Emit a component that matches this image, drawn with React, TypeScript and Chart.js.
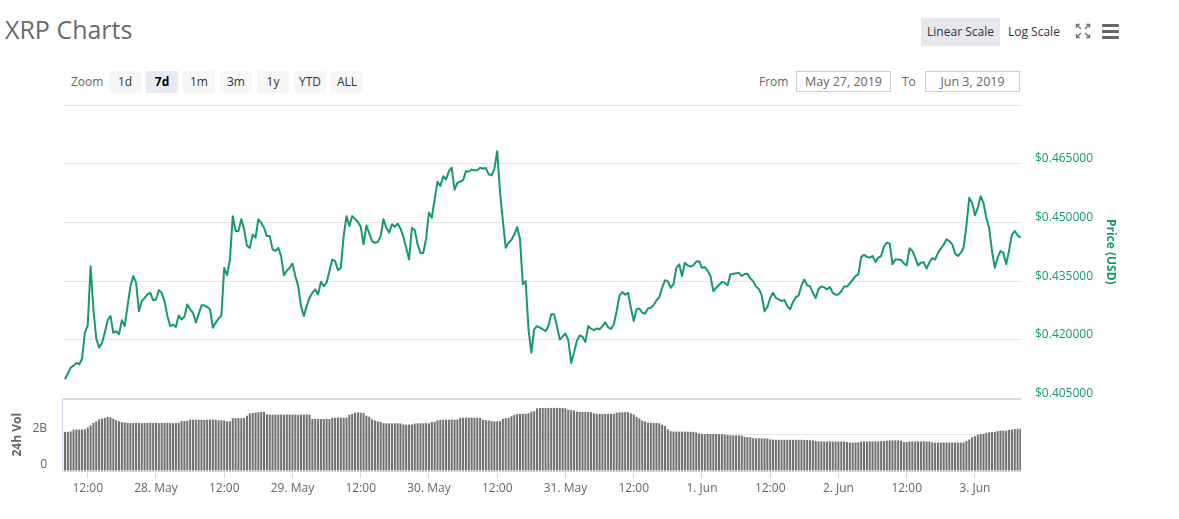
import React, { useEffect, useRef } from 'react';
import { Chart, registerables } from 'chart.js';

Chart.register(...registerables);

// ---- data ----
// One observation every 30 minutes, starting 27 May 2019 08:00
const seriesStartLabel = '27 May 2019 08:00';
const stepHours = 0.5;

const priceUSD = [
  0.4099, 0.4114, 0.4129, 0.4134, 0.4141, 0.4137, 0.4152, 0.4218, 0.4237, 0.4388,
  0.4278, 0.4203, 0.4180, 0.4192, 0.4218, 0.4250, 0.4261, 0.4218, 0.4222, 0.4214,
  0.4250, 0.4235, 0.4286, 0.4336, 0.4363, 0.4346, 0.4273, 0.4299, 0.4307, 0.4316,
  0.4320, 0.4301, 0.4303, 0.4327, 0.4320, 0.4299, 0.4261, 0.4235, 0.4239, 0.4233,
  0.4262, 0.4252, 0.4259, 0.4290, 0.4278, 0.4269, 0.4244, 0.4265, 0.4288, 0.4288,
  0.4284, 0.4278, 0.4231, 0.4244, 0.4254, 0.4262, 0.4384, 0.4365, 0.4405, 0.4516,
  0.4478, 0.4478, 0.4508, 0.4482, 0.4440, 0.4435, 0.4469, 0.4461, 0.4508, 0.4499,
  0.4486, 0.4465, 0.4465, 0.4431, 0.4427, 0.4435, 0.4414, 0.4365, 0.4376, 0.4384,
  0.4395, 0.4363, 0.4337, 0.4286, 0.4261, 0.4286, 0.4307, 0.4320, 0.4329, 0.4316,
  0.4348, 0.4337, 0.4346, 0.4376, 0.4405, 0.4401, 0.4378, 0.4384, 0.4465, 0.4516,
  0.4491, 0.4516, 0.4509, 0.4501, 0.4489, 0.4444, 0.4492, 0.4472, 0.4452, 0.4448,
  0.4450, 0.4465, 0.4508, 0.4486, 0.4474, 0.4495, 0.4489, 0.4497, 0.4484, 0.4463,
  0.4435, 0.4405, 0.4486, 0.4480, 0.4444, 0.4422, 0.4422, 0.4459, 0.4525, 0.4512,
  0.4559, 0.4604, 0.4593, 0.4618, 0.4610, 0.4631, 0.4640, 0.4584, 0.4601, 0.4604,
  0.4608, 0.4631, 0.4630, 0.4635, 0.4633, 0.4633, 0.4640, 0.4637, 0.4639, 0.4623,
  0.4620, 0.4637, 0.4682, 0.4576, 0.4503, 0.4435, 0.4448, 0.4455, 0.4469, 0.4488,
  0.4458, 0.4342, 0.4350, 0.4227, 0.4167, 0.4227, 0.4235, 0.4231, 0.4227, 0.4222,
  0.4235, 0.4265, 0.4265, 0.4235, 0.4201, 0.4208, 0.4216, 0.4199, 0.4141, 0.4167,
  0.4197, 0.4211, 0.4208, 0.4194, 0.4235, 0.4228, 0.4225, 0.4229, 0.4227, 0.4235,
  0.4245, 0.4232, 0.4228, 0.4239, 0.4273, 0.4313, 0.4322, 0.4315, 0.4320, 0.4282,
  0.4248, 0.4278, 0.4280, 0.4269, 0.4267, 0.4280, 0.4282, 0.4289, 0.4301, 0.4309,
  0.4333, 0.4352, 0.4350, 0.4333, 0.4342, 0.4384, 0.4393, 0.4363, 0.4397, 0.4390,
  0.4387, 0.4390, 0.4400, 0.4401, 0.4384, 0.4386, 0.4376, 0.4363, 0.4324, 0.4333,
  0.4340, 0.4348, 0.4346, 0.4339, 0.4367, 0.4369, 0.4370, 0.4371, 0.4363, 0.4368,
  0.4369, 0.4357, 0.4350, 0.4336, 0.4330, 0.4314, 0.4273, 0.4284, 0.4307, 0.4320,
  0.4307, 0.4303, 0.4299, 0.4302, 0.4286, 0.4278, 0.4296, 0.4309, 0.4313, 0.4339,
  0.4354, 0.4339, 0.4337, 0.4320, 0.4307, 0.4330, 0.4336, 0.4334, 0.4329, 0.4335,
  0.4320, 0.4315, 0.4316, 0.4324, 0.4336, 0.4336, 0.4344, 0.4353, 0.4363, 0.4367,
  0.4412, 0.4417, 0.4412, 0.4410, 0.4414, 0.4399, 0.4410, 0.4414, 0.4438, 0.4448,
  0.4446, 0.4393, 0.4405, 0.4405, 0.4404, 0.4395, 0.4390, 0.4434, 0.4427, 0.4410,
  0.4390, 0.4397, 0.4398, 0.4382, 0.4398, 0.4409, 0.4405, 0.4422, 0.4433, 0.4443,
  0.4457, 0.4452, 0.4444, 0.4421, 0.4414, 0.4422, 0.4435, 0.4491, 0.4563, 0.4550,
  0.4518, 0.4537, 0.4567, 0.4550, 0.4512, 0.4486, 0.4427, 0.4384, 0.4410, 0.4427,
  0.4422, 0.4393, 0.4428, 0.4469, 0.4478, 0.4467, 0.4461,
];

// 24h volume, billions of USD
const volumeB = [
  2.16, 2.16, 2.18, 2.28, 2.28, 2.29, 2.29, 2.30, 2.40, 2.52,
  2.65, 2.74, 2.85, 2.89, 2.92, 2.98, 2.96, 2.88, 2.80, 2.74,
  2.70, 2.68, 2.66, 2.64, 2.65, 2.66, 2.65, 2.64, 2.65, 2.65,
  2.66, 2.65, 2.65, 2.64, 2.65, 2.65, 2.66, 2.65, 2.64, 2.65,
  2.66, 2.76, 2.76, 2.77, 2.83, 2.83, 2.84, 2.83, 2.83, 2.82,
  2.83, 2.84, 2.83, 2.83, 2.80, 2.80, 2.79, 2.74, 2.74, 2.91,
  2.91, 2.92, 2.91, 2.93, 3.05, 3.18, 3.20, 3.22, 3.24, 3.26,
  3.26, 3.13, 3.11, 3.11, 3.10, 3.11, 3.11, 3.10, 3.11, 3.11,
  3.12, 3.11, 3.10, 3.11, 3.11, 3.12, 3.11, 2.87, 2.87, 2.86,
  2.87, 2.87, 2.88, 2.87, 2.94, 2.94, 2.95, 2.94, 2.94, 2.94,
  3.10, 3.15, 3.22, 3.23, 3.22, 3.20, 3.05, 3.00, 2.85, 2.78,
  2.74, 2.70, 2.64, 2.63, 2.63, 2.62, 2.63, 2.63, 2.62, 2.57,
  2.56, 2.56, 2.57, 2.62, 2.63, 2.63, 2.63, 2.64, 2.63, 2.70,
  2.71, 2.80, 2.82, 2.83, 2.83, 2.83, 2.84, 2.83, 2.84, 2.93,
  2.94, 2.94, 2.94, 2.95, 2.94, 2.94, 2.93, 2.82, 2.80, 2.79,
  2.75, 2.74, 2.74, 2.75, 2.88, 2.92, 2.93, 3.02, 3.10, 3.14,
  3.15, 3.16, 3.16, 3.18, 3.28, 3.30, 3.45, 3.48, 3.48, 3.48,
  3.48, 3.47, 3.48, 3.48, 3.48, 3.47, 3.46, 3.38, 3.35, 3.34,
  3.28, 3.26, 3.26, 3.26, 3.25, 3.24, 3.18, 3.16, 3.15, 3.15,
  3.15, 3.15, 3.15, 3.16, 3.22, 3.24, 3.24, 3.25, 3.24, 3.18,
  3.12, 2.98, 2.90, 2.78, 2.74, 2.67, 2.65, 2.65, 2.65, 2.63,
  2.55, 2.48, 2.30, 2.20, 2.18, 2.17, 2.17, 2.17, 2.17, 2.17,
  2.16, 2.16, 2.12, 2.06, 2.05, 2.04, 2.04, 2.04, 2.04, 2.04,
  2.03, 2.03, 2.02, 1.98, 1.97, 1.96, 1.96, 1.96, 1.95, 1.89,
  1.87, 1.86, 1.81, 1.80, 1.80, 1.80, 1.80, 1.79, 1.74, 1.73,
  1.72, 1.72, 1.72, 1.72, 1.72, 1.72, 1.72, 1.72, 1.72, 1.72,
  1.72, 1.71, 1.70, 1.69, 1.65, 1.64, 1.63, 1.63, 1.63, 1.63,
  1.63, 1.62, 1.63, 1.63, 1.62, 1.60, 1.57, 1.57, 1.57, 1.58,
  1.62, 1.63, 1.63, 1.63, 1.63, 1.63, 1.63, 1.64, 1.65, 1.68,
  1.69, 1.69, 1.69, 1.69, 1.67, 1.60, 1.59, 1.63, 1.63, 1.63,
  1.63, 1.63, 1.63, 1.63, 1.62, 1.58, 1.57, 1.57, 1.57, 1.57,
  1.57, 1.57, 1.57, 1.57, 1.57, 1.57, 1.57, 1.66, 1.74, 1.86,
  1.92, 2.00, 2.03, 2.05, 2.10, 2.14, 2.15, 2.16, 2.20, 2.22,
  2.22, 2.23, 2.27, 2.28, 2.32, 2.33, 2.33,
];

// hours after the first observation
const xTickHours = [4, 16, 28, 40, 52, 64, 76, 88, 100, 112, 124, 136, 148, 160];
const xTickLabels = [
  '12:00', '28. May', '12:00', '29. May', '12:00', '30. May', '12:00',
  '31. May', '12:00', '1. Jun', '12:00', '2. Jun', '12:00', '3. Jun',
];
const xRangeHours = [-0.35, 168.1];

const priceTicks = [0.405, 0.42, 0.435, 0.45, 0.465, 0.48];
const volTicks = [0, 2, 4];
const volTickLabels = ['0', '2B', ''];

const zoomButtons = ['1d', '7d', '1m', '3m', '1y', 'YTD', 'ALL'];
const selectedZoom = '7d';
const dateFrom = 'May 27, 2019';
const dateTo = 'Jun 3, 2019';

// ---- layout ----
const W = 1179;
const H = 519;
const PRICE_PANE = 293.5; // px
const VOL_PANE = 72.5; // px
const GREEN = '#16996c';
const FONT = '"Open Sans", "Noto Sans", sans-serif';

const priceLo = priceTicks[0];
const priceHi = priceTicks[priceTicks.length - 1];
const priceMin = priceLo - ((priceHi - priceLo) * VOL_PANE) / PRICE_PANE;
const volTop = volTicks[volTicks.length - 1];
const volMax = (volTop * (PRICE_PANE + VOL_PANE)) / VOL_PANE;

const paneDecor = {
  id: 'paneDecor',
  afterDraw(chart: any) {
    const { ctx, chartArea } = chart;
    const yP = chart.scales.yPrice;
    const yV = chart.scales.yVol;
    const vTop = yV.getPixelForValue(volTop);
    const vBot = yV.getPixelForValue(0);
    ctx.save();
    ctx.strokeStyle = '#ccd6eb';
    ctx.lineWidth = 1;
    ctx.beginPath();
    ctx.moveTo(chartArea.left - 0.5, vTop);
    ctx.lineTo(chartArea.left - 0.5, vBot);
    ctx.stroke();

    ctx.font = 'bold 12px ' + FONT;
    ctx.textAlign = 'center';
    ctx.textBaseline = 'middle';

    ctx.save();
    ctx.fillStyle = '#666666';
    ctx.translate(18, (vTop + vBot) / 2);
    ctx.rotate(-Math.PI / 2);
    ctx.fillText('24h Vol', 0, 0);
    ctx.restore();

    const pTop = yP.getPixelForValue(priceHi);
    const pBot = yP.getPixelForValue(priceLo);
    ctx.save();
    ctx.fillStyle = GREEN;
    ctx.translate(1110, (pTop + pBot) / 2);
    ctx.rotate(Math.PI / 2);
    ctx.fillText('Price (USD)', 0, 0);
    ctx.restore();
    ctx.restore();
  },
};

function ChartCanvas() {
  const ref = useRef<HTMLCanvasElement>(null);
  useEffect(() => {
    if (!ref.current) return;
    const chart = new Chart(ref.current, {
      data: {
        datasets: [
          {
            type: 'line',
            label: 'Price',
            data: priceUSD.map((p, i) => ({ x: i * stepHours, y: p })),
            yAxisID: 'yPrice',
            xAxisID: 'x',
            borderColor: GREEN,
            borderWidth: 2,
            pointRadius: 0,
            tension: 0,
            borderJoinStyle: 'round',
            order: 1,
          },
          {
            type: 'bar',
            label: '24h Vol',
            data: volumeB.map((v, i) => ({ x: i * stepHours, y: v })),
            yAxisID: 'yVol',
            xAxisID: 'x',
            backgroundColor: '#717171',
            barPercentage: 0.72,
            categoryPercentage: 1,
            order: 2,
          },
        ] as any,
      },
      options: {
        responsive: false,
        maintainAspectRatio: false,
        animation: false,
        devicePixelRatio: 1,
        layout: { padding: { top: 105, left: 0, right: 0, bottom: 0 } },
        plugins: {
          legend: { display: false },
          tooltip: { enabled: false },
          title: { display: false },
        },
        font: { family: FONT },
        scales: {
          x: {
            type: 'linear',
            position: 'bottom',
            offset: false,
            min: xRangeHours[0],
            max: xRangeHours[1],
            afterBuildTicks: (s: any) => {
              s.ticks = xTickHours.map((v) => ({ value: v }));
            },
            afterFit: (s: any) => {
              s.height = 48;
            },
            grid: {
              offset: false,
              drawOnChartArea: false,
              drawTicks: true,
              tickLength: 7,
              color: '#ccd6eb',
            },
            border: { display: true, color: '#ccd6eb' },
            ticks: {
              autoSkip: false,
              maxRotation: 0,
              padding: 3,
              color: '#666666',
              font: { family: FONT, size: 12 },
              callback: (v: any) => {
                const i = xTickHours.indexOf(Number(v));
                return i >= 0 ? xTickLabels[i] : '';
              },
            },
          },
          yPrice: {
            type: 'linear',
            position: 'right',
            min: priceMin,
            max: priceHi,
            afterBuildTicks: (s: any) => {
              s.ticks = priceTicks.map((v) => ({ value: v }));
            },
            afterFit: (s: any) => {
              s.width = 158;
            },
            grid: { drawTicks: false, color: '#e6e6e6', lineWidth: 1 },
            border: { display: false },
            ticks: {
              autoSkip: false,
              padding: 14,
              labelOffset: -5,
              color: GREEN,
              font: { family: FONT, size: 12 },
              callback: (v: any) =>
                Math.abs(Number(v) - priceHi) < 1e-9 ? '' : '$' + Number(v).toFixed(6),
            },
          },
          yVol: {
            type: 'linear',
            position: 'left',
            min: 0,
            max: volMax,
            afterBuildTicks: (s: any) => {
              s.ticks = volTicks.map((v) => ({ value: v }));
            },
            afterFit: (s: any) => {
              s.width = 63;
            },
            grid: {
              drawTicks: false,
              color: (c: any) =>
                c.tick && c.tick.value === 0
                  ? 'rgba(0,0,0,0)'
                  : c.tick && c.tick.value === volTop
                  ? '#d9d9d9'
                  : '#e6e6e6',
              lineWidth: (c: any) => (c.tick && c.tick.value === volTop ? 2 : 1),
            },
            border: { display: false },
            ticks: {
              autoSkip: false,
              padding: 16,
              labelOffset: -6,
              color: '#666666',
              font: { family: FONT, size: 12 },
              callback: (v: any) => {
                const i = volTicks.indexOf(Number(v));
                return i >= 0 ? volTickLabels[i] : '';
              },
            },
          },
        },
      } as any,
      plugins: [paneDecor],
    });
    return () => chart.destroy();
  }, []);
  return (
    <canvas
      ref={ref}
      width={W}
      height={H}
      aria-label={'XRP price and 24h volume from ' + seriesStartLabel}
      style={{ position: 'absolute', left: 0, top: 0, width: W, height: H }}
    />
  );
}

function FullscreenIcon() {
  return (
    <svg width="16" height="16" viewBox="0 0 16 16" style={{ position: 'absolute', left: 1075, top: 23 }}>
      <g stroke="#777" strokeWidth="1.4" fill="#777">
        <line x1="2" y1="2" x2="6" y2="6" />
        <line x1="14" y1="2" x2="10" y2="6" />
        <line x1="2" y1="14" x2="6" y2="10" />
        <line x1="14" y1="14" x2="10" y2="10" />
        <polygon points="1,1 5,1 1,5" strokeWidth="0.5" />
        <polygon points="15,1 11,1 15,5" strokeWidth="0.5" />
        <polygon points="1,15 5,15 1,11" strokeWidth="0.5" />
        <polygon points="15,15 11,15 15,11" strokeWidth="0.5" />
      </g>
    </svg>
  );
}

export default function App() {
  const abs = (left: number, top: number, extra: any = {}) => ({
    position: 'absolute' as const,
    left,
    top,
    ...extra,
  });
  return (
    <div
      style={{
        position: 'fixed',
        left: 0,
        top: 0,
        width: W,
        height: H,
        overflow: 'hidden',
        background: '#ffffff',
        fontFamily: FONT,
      }}
    >
      <div style={abs(5, 12, { fontSize: 25, color: '#6b6b6b', whiteSpace: 'nowrap' })}>XRP Charts</div>

      <div
        style={abs(921, 18, {
          width: 79,
          height: 28,
          lineHeight: '28px',
          background: '#e6e8ed',
          fontSize: 12,
          color: '#333',
          textAlign: 'center',
        })}
      >
        Linear Scale
      </div>
      <div style={abs(1008, 18, { height: 28, lineHeight: '28px', fontSize: 12, color: '#333' })}>Log Scale</div>
      <FullscreenIcon />
      {[25, 31, 37].map((t) => (
        <div key={t} style={abs(1102, t - 1, { width: 17, height: 3, background: '#666', borderRadius: 1 })} />
      ))}

      <div style={abs(71, 71, { height: 22, lineHeight: '22px', fontSize: 12, color: '#666' })}>Zoom</div>
      {zoomButtons.map((b, i) => (
        <div
          key={b}
          style={abs(109 + 37 * i, 71, {
            width: 32,
            height: 22,
            lineHeight: '22px',
            textAlign: 'center',
            fontSize: 12,
            background: b === selectedZoom ? '#e6ebf5' : '#f7f7f7',
            color: b === selectedZoom ? '#000' : '#333',
            fontWeight: b === selectedZoom ? 700 : 400,
          })}
        >
          {b}
        </div>
      ))}

      <div style={abs(759, 71, { height: 21, lineHeight: '21px', fontSize: 12, color: '#666' })}>From</div>
      <div
        style={abs(796, 71, {
          width: 95,
          height: 21,
          boxSizing: 'border-box',
          border: '1px solid #cccccc',
          lineHeight: '19px',
          textAlign: 'center',
          fontSize: 12.5,
          color: '#666',
        })}
      >
        {dateFrom}
      </div>
      <div style={abs(902, 71, { height: 21, lineHeight: '21px', fontSize: 12, color: '#666' })}>To</div>
      <div
        style={abs(925, 71, {
          width: 95,
          height: 21,
          boxSizing: 'border-box',
          border: '1px solid #cccccc',
          lineHeight: '19px',
          textAlign: 'center',
          fontSize: 12.5,
          color: '#666',
        })}
      >
        {dateTo}
      </div>

      <ChartCanvas />
    </div>
  );
}
